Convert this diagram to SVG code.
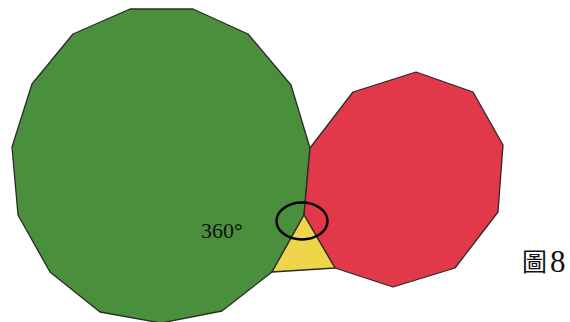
<svg xmlns="http://www.w3.org/2000/svg" width="570" height="322" viewBox="0 0 570 322">
  <style>
    .poly { stroke: #2a2a2a; stroke-width: 1.3; stroke-linejoin: round; }
    .green { fill: #4a8f3b; }
    .red { fill: #e2394a; }
    .yellow { fill: #eed549; }
    .mark { fill: none; stroke: #000; stroke-width: 2.5; }
    .lbl { font-family: "Liberation Serif", "Times New Roman", serif; fill: #111; }
  </style>
  <rect width="570" height="322" fill="#ffffff"/>
  <g id="green15">
    <polygon class="poly green" points="130,9 193,9 248,34 291,85 310,148 304,215 272,272 222,311 161,323 100,312 50,272 18,215 12,147 32,84 73,34"/>
  </g>
  <g id="red10">
    <polygon class="poly red" points="304,215 310,148 353,92 416,72 473,92 503,145 498,212 455,268 393,287 335,268"/>
  </g>
  <g id="triangle">
    <polygon class="poly yellow" points="304,215 272,272 335,268"/>
  </g>
  <g id="vertex-mark">
    <ellipse class="mark" cx="302" cy="221" rx="25.5" ry="18.5"/>
  </g>
  <g id="angle-label">
    <text class="lbl" x="201" y="238" font-size="22">360<tspan font-weight="bold">°</tspan></text>
  </g>
  <g id="figure-label">
    <text x="522" y="271" font-size="25" font-family="'Noto Sans CJK TC', 'Noto Sans CJK SC', sans-serif" fill="#111">圖</text>
    <text class="lbl" x="550" y="272" font-size="31">8</text>
  </g>
</svg>
